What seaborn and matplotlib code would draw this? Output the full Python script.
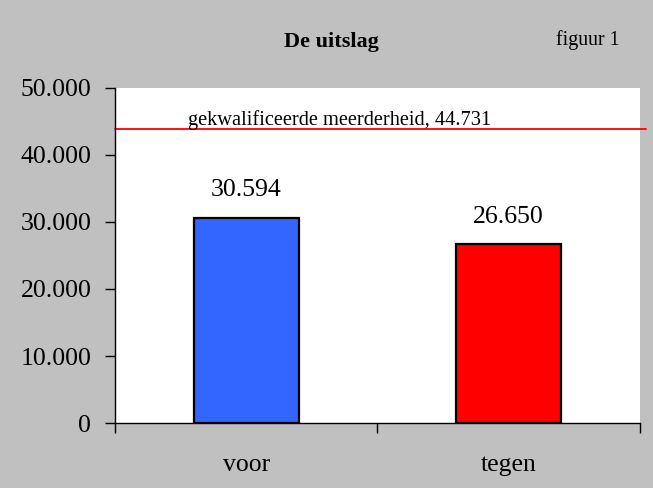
import matplotlib
matplotlib.use("Agg")
import matplotlib.pyplot as plt
from matplotlib.ticker import FuncFormatter, FixedLocator
import seaborn as sns

# ── Data ─────────────────────────────────────────────────────────
categories = ["voor", "tegen"]
votes = [30594, 26650]
bar_colors = ["#3366FF", "#FF0000"]
majority_value = 44731
majority_line_y = 43900  # where the line sits in the picture
majority_label = "gekwalificeerde meerderheid, 44.731"
y_ticks = [0, 10000, 20000, 30000, 40000, 50000]

# ── Style ─────────────────────────────────────────────────────────
sns.set_theme(style="white")
plt.rcParams["font.family"] = ["Liberation Serif", "DejaVu Serif"]
plt.rcParams["text.color"] = "black"
plt.rcParams["xtick.color"] = "black"
plt.rcParams["ytick.color"] = "black"
GREY = "#C0C0C0"


def dotted(v, _pos=None):
    return f"{int(v):,}".replace(",", ".")


fig = plt.figure(figsize=(6.53, 4.88), dpi=100, facecolor=GREY)
ax = fig.add_axes([0.176, 0.133, 0.804, 0.687])
ax.set_facecolor("white")

sns.barplot(x=categories, y=votes, hue=categories, palette=bar_colors,
            width=0.4, edgecolor="black", linewidth=1.6, saturation=1,
            legend=False, ax=ax)

for i, v in enumerate(votes):
    ax.text(i, v + 2500, dotted(v), ha="center", va="bottom", fontsize=18.5)

ax.axhline(majority_line_y, xmin=0, xmax=1.012, color="red", linewidth=1.3,
           clip_on=False)
ax.text(0.139, 0.905, majority_label, transform=ax.transAxes,
        ha="left", va="center", fontsize=14.7)

ax.set_xlim(-0.5, 1.5)
ax.set_ylim(0, 50000)
ax.yaxis.set_major_locator(FixedLocator(y_ticks))
ax.yaxis.set_major_formatter(FuncFormatter(dotted))
ax.xaxis.set_minor_locator(FixedLocator([-0.5, 0.5, 1.5]))
ax.tick_params(axis="y", direction="out", length=7, width=1,
               labelsize=18.5, pad=10, left=True)
ax.tick_params(axis="x", which="major", length=0, labelsize=18.5, pad=22)
ax.tick_params(axis="x", which="minor", direction="out", length=7, width=1,
               bottom=True)
ax.set_xlabel("")
ax.set_ylabel("")

for side in ["top", "right"]:
    ax.spines[side].set_visible(False)
for side in ["left", "bottom"]:
    ax.spines[side].set_color("black")
    ax.spines[side].set_linewidth(1)

fig.text(0.508, 0.913, "De uitslag", ha="center", va="center",
         fontsize=16, fontweight="bold")
fig.text(0.900, 0.918, "figuur 1", ha="center", va="center", fontsize=14.3)

fig.savefig("out.png", dpi=100, facecolor=GREY)
